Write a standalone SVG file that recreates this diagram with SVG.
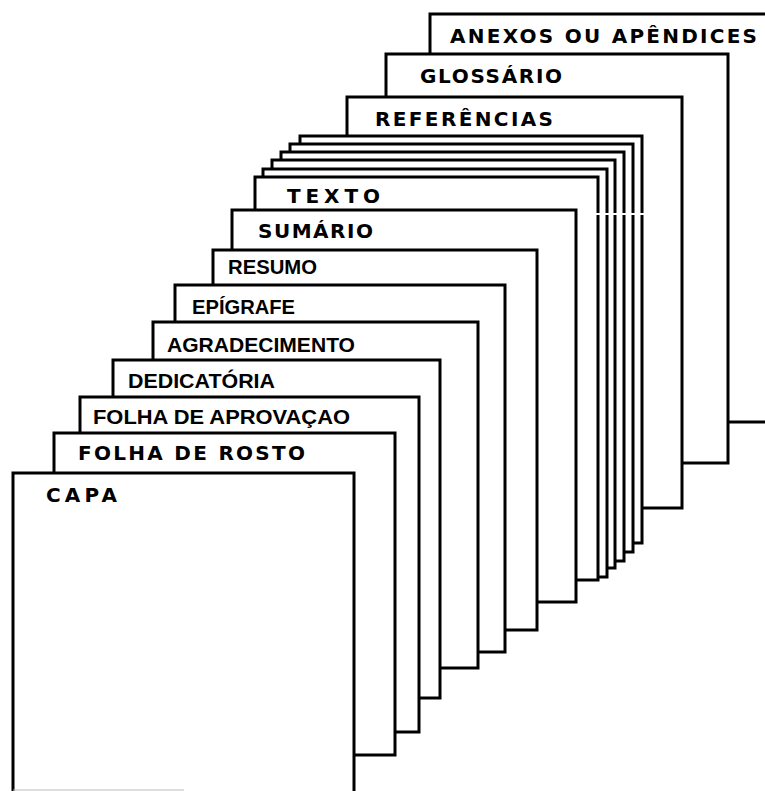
<svg xmlns="http://www.w3.org/2000/svg" width="765" height="791" viewBox="0 0 765 791">
<style>
.pg{fill:#fff;stroke:#000;stroke-width:3}
.w{font-family:"DejaVu Sans","Verdana",sans-serif;font-weight:bold;font-size:20px;fill:#000}
.n{font-family:"Liberation Sans","Arial",sans-serif;font-weight:bold;font-size:21px;fill:#000}
</style>
<rect width="765" height="791" fill="#fff"/>
<g id="anexos"><rect class="pg" x="430" y="14" width="400" height="408"/><text class="w" x="450" y="43" textLength="307" lengthAdjust="spacing">ANEXOS OU APÊNDICES</text></g>
<g id="glossario"><rect class="pg" x="386" y="54" width="342" height="409"/><text class="w" x="420" y="83" textLength="142" lengthAdjust="spacing">GLOSSÁRIO</text></g>
<g id="referencias"><rect class="pg" x="347" y="97" width="335" height="411"/><text class="w" x="375" y="126" textLength="178" lengthAdjust="spacing">REFERÊNCIAS</text></g>
<g id="folhas-texto">
<rect class="pg" x="300" y="136" width="342" height="407"/>
<rect class="pg" x="290" y="144" width="343" height="408"/>
<rect class="pg" x="281" y="152" width="343" height="409"/>
<rect class="pg" x="272" y="160" width="343" height="408"/>
<rect class="pg" x="263" y="169" width="344" height="408"/>
</g>
<g id="texto"><rect class="pg" x="255" y="177" width="343" height="403"/><text class="w" x="287" y="203" textLength="93" lengthAdjust="spacing">TEXTO</text></g>
<line x1="596" y1="214" x2="646" y2="214" stroke="#fff" stroke-width="2"/>
<g id="sumario"><rect class="pg" x="232" y="210" width="344" height="392"/><text class="w" x="258" y="238" textLength="115" lengthAdjust="spacing">SUMÁRIO</text></g>
<g id="resumo"><rect class="pg" x="213" y="250" width="324" height="380"/><text class="n" x="228" y="274" textLength="89" lengthAdjust="spacingAndGlyphs">RESUMO</text></g>
<g id="epigrafe"><rect class="pg" x="175" y="285" width="330" height="367"/><text class="n" x="192" y="314" textLength="103" lengthAdjust="spacingAndGlyphs">EPÍGRAFE</text></g>
<g id="agradecimento"><rect class="pg" x="153" y="322" width="325" height="346"/><text class="n" x="167" y="352" textLength="188" lengthAdjust="spacingAndGlyphs">AGRADECIMENTO</text></g>
<g id="dedicatoria"><rect class="pg" x="113" y="360" width="327" height="338"/><text class="n" x="128" y="388" textLength="147" lengthAdjust="spacingAndGlyphs">DEDICATÓRIA</text></g>
<g id="folha-aprovacao"><rect class="pg" x="80" y="397" width="339" height="335"/><text class="n" x="93" y="424" textLength="257" lengthAdjust="spacingAndGlyphs">FOLHA DE APROVAÇAO</text></g>
<g id="folha-rosto"><rect class="pg" x="54" y="433" width="341" height="322"/><text class="w" x="78" y="460" textLength="227" lengthAdjust="spacing">FOLHA DE ROSTO</text></g>
<g id="capa"><rect class="pg" x="13" y="473" width="341" height="340"/><text class="w" x="46" y="502" textLength="71" lengthAdjust="spacing">CAPA</text></g>
<line x1="13" y1="790" x2="184" y2="790" stroke="#bbb" stroke-width="1"/>
</svg>
